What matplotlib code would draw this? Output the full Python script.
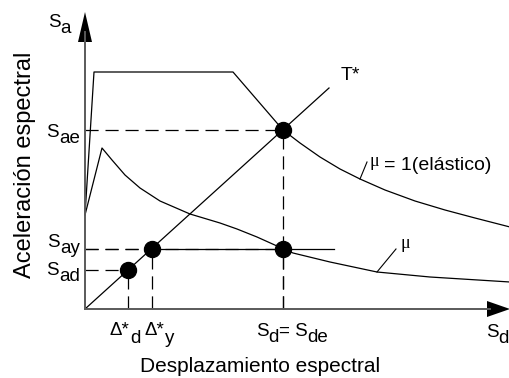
import matplotlib
matplotlib.use("Agg")
import matplotlib.pyplot as plt
from matplotlib import transforms

plt.rcParams["font.family"] = ["Liberation Sans", "DejaVu Sans"]

# Elastic demand spectrum (mu = 1), diagram units
elastic_sd = [0, 9, 148, 198, 215, 235, 255, 275, 300, 330, 360, 390, 425]
elastic_sa = [94, 237, 237, 179, 166, 152, 140, 130, 119, 108, 99, 91, 82]

# Inelastic demand spectrum (mu)
inelastic_sd = [0, 17, 27, 40, 55, 75, 105, 135, 152, 172, 192, 198, 208,
                245, 292, 345, 425]
inelastic_sa = [94, 161, 149, 134, 121, 108, 95, 86, 80, 72, 63, 60, 56,
                47, 37, 32, 27]

# Capacity line T* and characteristic points
t_line_sd = [0, 244]
t_line_sa = [0, 221]
sd_d, sa_d = 43, 39        # (Delta*_d, S_ad)
sd_y, sa_y = 67, 60        # (Delta*_y, S_ay)
sd_e, sa_e = 198, 179      # (S_de, S_ae)
plateau_end = 249          # end of yield plateau

axis_x_max = 425
axis_y_max = 297

fig = plt.figure(figsize=(5.1, 3.78), dpi=100)
ax = fig.add_axes([0, 0, 1, 1])
ax.set_xlim(-85, 425)
ax.set_ylim(-69, 309)
ax.axis("off")
renderer = fig.canvas.get_renderer()

lw = 0.9
ax.plot(elastic_sd, elastic_sa, color="black", lw=lw)
ax.plot(inelastic_sd, inelastic_sa, color="black", lw=lw)
ax.plot(t_line_sd, t_line_sa, color="black", lw=lw)
ax.plot([sd_y, plateau_end], [sa_y, sa_y], color="black", lw=lw)

# Dashed reference lines
dash = dict(color="black", lw=lw, linestyle=(0, (10.5, 5.5)))
for xv, yv in [(sd_d, sa_d), (sd_y, sa_y), (sd_e, sa_e), (sd_e, sa_y)]:
    ax.plot([0, xv], [yv, yv], **dash)
    ax.plot([xv, xv], [0, yv], **dash)

# Points
ax.plot([sd_d, sd_y, sd_e, sd_e], [sa_d, sa_y, sa_y, sa_e], "o",
        color="black", markersize=11.5, zorder=5)

# Axes with arrowheads
axis_color = "#5a5a5a"
ax.plot([0, 0], [0, axis_y_max - 20], color=axis_color, lw=1.4)
ax.plot([0, axis_x_max - 20], [0, 0], color=axis_color, lw=1.4)
ax.fill([-7, 7, 0], [axis_y_max - 30, axis_y_max - 30, axis_y_max],
        color="black", lw=0)
ax.fill([axis_x_max - 23, axis_x_max - 23, axis_x_max], [-8, 8, 0],
        color="black", lw=0)

# Leader lines for curve labels
ax.plot([275, 282], [130, 147], color="black", lw=0.8)
ax.plot([292, 311], [37, 60], color="black", lw=0.8)


def text_run(x, y, parts, fs=13.5, ha="left", kern=0.0):
    """Draw a run of text pieces on a common baseline; each piece is
    (string, vertical shift in pixels)."""
    widths = []
    for s, _ in parts:
        t = ax.text(0, 0, s, fontsize=fs)
        widths.append(t.get_window_extent(renderer).width + kern)
        t.remove()
    total = sum(widths) - kern
    start = {"left": 0, "center": -total / 2, "right": -total}[ha]
    dx = start
    for (s, dy), w in zip(parts, widths):
        tr = transforms.offset_copy(ax.transData, fig=fig, x=dx, y=dy,
                                    units="dots")
        ax.text(x, y, s, fontsize=fs, ha="left", va="baseline", transform=tr)
        dx += w


sub = -6
text_run(-37, 282, [("S", 0), ("a", sub)])
text_run(-5, 172, [("S", 0), ("ae", sub)], ha="right")
text_run(-5, 62, [("S", 0), ("ay", sub)], ha="right")
text_run(-5, 34, [("S", 0), ("ad", sub)], ha="right")

text_run(25, -26, [("Δ*", 0), ("d", -8)])
text_run(60, -26, [("Δ*", 0), ("y", -8)])
text_run(171, -27, [("S", 0), ("d", sub), ("= S", 0), ("de", sub)])
text_run(424, -28, [("S", 0), ("d", sub)], ha="right")

ax.text(265, 233, "T*", fontsize=14, ha="center", va="center")
ax.text(285, 148, "μ", fontsize=13, ha="left", va="center",
        family=["Liberation Serif", "DejaVu Serif"])
ax.text(299, 144, "= 1(elástico)", fontsize=14, ha="left", va="center")
ax.text(316, 65, "μ", fontsize=13, ha="left", va="center",
        family=["Liberation Serif", "DejaVu Serif"])

ax.text(175, -57, "Desplazamiento espectral", fontsize=15, ha="center",
        va="center")
ax.text(-60, 144, "Aceleración espectral", fontsize=17, ha="center",
        va="center", rotation=90)

fig.savefig("out.png", dpi=100)
